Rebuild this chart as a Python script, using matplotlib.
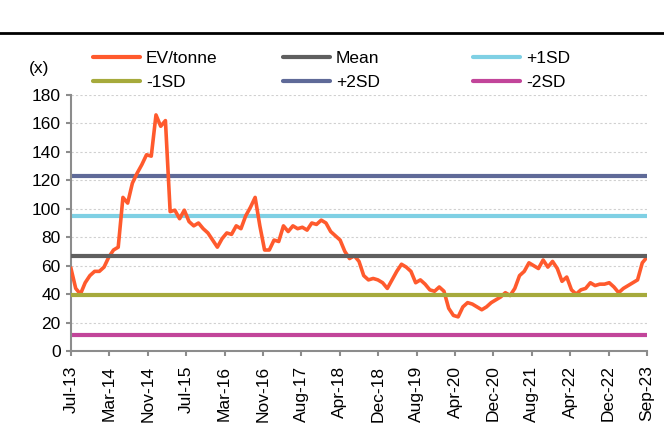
import numpy as np
import matplotlib
matplotlib.use("Agg")
import matplotlib.pyplot as plt
from matplotlib.lines import Line2D

# monthly EV/tonne readings, Jul-13 .. Sep-23
ev_tonne = [58, 44, 40, 48, 53, 56, 56, 59, 66, 71,
            73, 108, 104, 118, 125, 131, 138, 137, 166, 158,
            162, 98, 99, 93, 99, 91, 88, 90, 86, 83,
            78, 73, 79, 83, 82, 88, 86, 95, 101, 108,
            88, 71, 71, 78, 77, 88, 84, 88, 86, 87,
            85, 90, 89, 92, 90, 84, 81, 78, 70, 65,
            67, 63, 53, 50, 51, 50, 48, 44, 50, 56,
            61, 59, 56, 48, 50, 47, 43, 42, 45, 42,
            30, 25, 24, 31, 34, 33, 31, 29, 31, 34,
            36, 38, 41, 39, 44, 53, 56, 62, 60, 58,
            64, 59, 63, 58, 49, 52, 43, 40, 43, 44,
            48, 46, 47, 47, 48, 45, 41, 44, 46, 48,
            50, 62, 66]
mean_val = 67.0
sd_val = 27.9
tick_labels = ["Jul-13", "Mar-14", "Nov-14", "Jul-15", "Mar-16", "Nov-16",
               "Aug-17", "Apr-18", "Dec-18", "Aug-19", "Apr-20", "Dec-20",
               "Aug-21", "Apr-22", "Dec-22", "Sep-23"]

plt.rcParams['font.family'] = ['Liberation Sans', 'DejaVu Sans']
fs = 12.5

x = np.arange(len(ev_tonne))
n = len(ev_tonne) - 1

fig = plt.figure(figsize=(6.64, 4.23), dpi=100)
ax = fig.add_axes([71/664, 1-351/423, 576/664, 256/423])

c_ev = '#ff5a2d'
c_mean = '#5f5f5f'
c_p1 = '#7fd0e4'
c_m1 = '#a6aa3c'
c_p2 = '#5f6a98'
c_m2 = '#c2459a'
lw_sd = 3.0

ax.plot([0, n], [mean_val + 2*sd_val]*2, color=c_p2, lw=lw_sd, solid_capstyle='butt')
ax.plot([0, n], [mean_val + sd_val]*2, color=c_p1, lw=lw_sd, solid_capstyle='butt')
ax.plot([0, n], [mean_val - 2*sd_val]*2, color=c_m2, lw=lw_sd, solid_capstyle='butt')
ax.plot(x, ev_tonne, color=c_ev, lw=2.6, zorder=3)
ax.plot([0, n], [mean_val]*2, color=c_mean, lw=lw_sd, solid_capstyle='butt', zorder=4)
ax.plot([0, n], [mean_val - sd_val]*2, color=c_m1, lw=lw_sd, solid_capstyle='butt', zorder=4)

ax.set_xlim(0, n)
ax.set_ylim(0, 180)
ax.set_yticks(range(0, 181, 20))
ax.set_xticks(np.linspace(0, n, len(tick_labels)))
ax.set_xticklabels(tick_labels, rotation=90)
ax.grid(axis='y', color='#d0d0d0', linestyle=(0, (2, 2)), lw=0.8)
ax.set_axisbelow(True)
for s in ['top', 'right']:
    ax.spines[s].set_visible(False)
for s in ['left', 'bottom']:
    ax.spines[s].set_color('#8c8c8c')
    ax.spines[s].set_linewidth(1.5)
ax.tick_params(colors='#8c8c8c', labelcolor='black', labelsize=fs, length=3.5, width=1.5)
ax.tick_params(axis='x', pad=7)
ax.tick_params(axis='y', pad=4)

fig.text(39/664, 1-68/423, "(x)", fontsize=fs, ha='center', va='center')

# header rule
fig.add_artist(Line2D([0, 1], [1-33/423]*2, color='black', lw=2))

cols = [[("EV/tonne", c_ev), ("-1SD", c_m1)],
        [("Mean", c_mean), ("+2SD", c_p2)],
        [("+1SD", c_p1), ("-2SD", c_m2)]]
lefts = [93, 283, 473]
for col, lx in zip(cols, lefts):
    handles = [Line2D([], [], color=c, lw=3, solid_capstyle='round') for _, c in col]
    leg = fig.legend(handles, [t for t, _ in col], loc='upper left',
                     bbox_to_anchor=(lx/664, 1-51/423), frameon=False, fontsize=fs,
                     handlelength=2.7, handletextpad=0.35, labelspacing=0.5,
                     borderpad=0, borderaxespad=0)

fig.savefig("out.png", dpi=100)
